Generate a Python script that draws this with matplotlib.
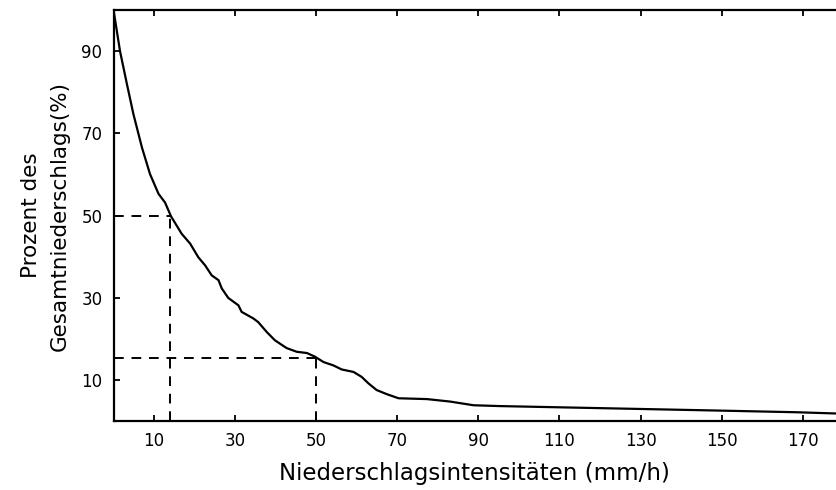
import matplotlib
matplotlib.use("Agg")
import matplotlib.pyplot as plt

# curve
intensity = [0, 0.8, 1.6, 3.3, 4.9, 7.0, 9.0, 11.1, 12.7, 14.2, 16.8, 18.9, 20.9,
             22.6, 24.2, 25.9, 26.7, 28.3, 30.8, 31.6, 34.5, 35.7, 37.8, 39.8,
             42.7, 45.2, 47.7, 49.7, 51.8, 54.2, 56.3, 59.2, 61.2, 62.9, 64.9,
             67.4, 70.3, 77.3, 83.0, 88.8, 95.3, 110.1, 129.9, 149.6, 168.5, 178.2]
percent = [100, 95, 90, 82, 74.7, 66.6, 60.1, 55.3, 53.2, 49.8, 45.6, 43.2, 39.9,
           37.9, 35.5, 34.3, 32.3, 30.0, 28.2, 26.6, 25.0, 24.1, 21.7, 19.7,
           17.8, 16.9, 16.6, 15.7, 14.4, 13.6, 12.6, 12.0, 10.8, 9.2, 7.6,
           6.6, 5.6, 5.4, 4.8, 3.9, 3.7, 3.4, 3.0, 2.6, 2.2, 1.9]

# reading guides
guide_x = [14, 50]
guide_y = [50, 15.5]

xticks = [10, 30, 50, 70, 90, 110, 130, 150, 170]
yticks = [10, 30, 50, 70, 90]

fig = plt.figure(figsize=(8.36, 4.9), dpi=100)
ax = fig.add_axes([0.1358, 0.1402, 0.8642, 0.8394])

ax.plot(intensity, percent, color="black", lw=1.6)
for gx, gy in zip(guide_x, guide_y):
    ax.plot([0, gx], [gy, gy], color="black", lw=1.4, ls=(0, (5, 4)))
    ax.plot([gx, gx], [0, gy], color="black", lw=1.4, ls=(0, (5, 4)))

ax.set_xlim(0, 178.2)
ax.set_ylim(0, 100)
ax.set_xticks(xticks)
ax.set_yticks(yticks)
ax.tick_params(direction="in", length=4, width=1.3, labelsize=12, pad=8,
               top=True)
ax.spines["right"].set_visible(False)
for s in ["left", "bottom", "top"]:
    ax.spines[s].set_linewidth(1.6)

ax.set_xlabel("Niederschlagsintensitäten (mm/h)", fontsize=16.5, labelpad=8)
ax.set_ylabel("Prozent des\nGesamtniederschlags(%)", fontsize=15.5,
              labelpad=8, linespacing=1.6)

fig.savefig("out.png", dpi=100)
